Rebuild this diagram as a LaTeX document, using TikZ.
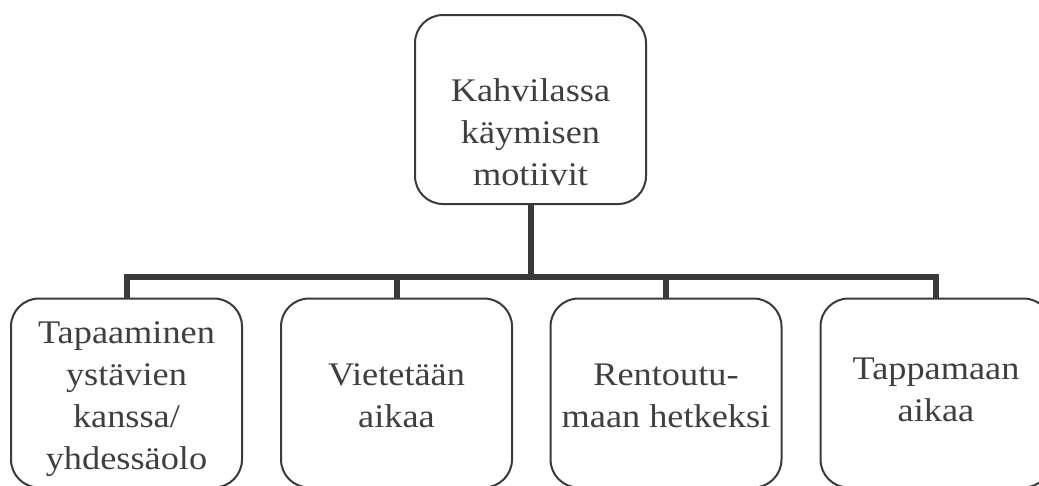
\documentclass[tikz,border=0pt]{standalone}
\usepackage{fontspec}
\setmainfont[FakeStretch=1.1]{Liberation Serif}
\definecolor{linegray}{HTML}{3A3A3C}
\definecolor{textgray}{HTML}{3F3F3F}
\begin{document}
\begin{tikzpicture}[x=1pt,y=-1pt,
  box/.style={draw=linegray, line width=2pt, rounded corners=28pt,
    minimum width=231pt, minimum height=189pt, inner sep=0pt},
  txt/.style={align=center, text=textgray, inner sep=0pt, anchor=base,
    font=\fontsize{33}{42}\selectfont},
  link/.style={draw=linegray, line width=6pt}]
\useasboundingbox (0,0) rectangle (1039,485);
\clip (0,0) rectangle (1039,485);

% boxes
\node[box] (top) at (530.5,109.5) {};
\node[box] (b1) at (126.5,393) {};
\node[box] (b2) at (396.5,393) {};
\node[box] (b3) at (666,393) {};
\node[box] (b4) at (936,393) {};

% baselines of the last text lines
\coordinate (ytop) at (0,185);
\coordinate (yfour) at (0,469);
\coordinate (ytwo) at (0,427);
\coordinate (yalt) at (0,421);

% box texts
\node[txt] (ttop) at (top.center |- ytop) {Kahvilassa\\käymisen\\motiivit};
\node[txt] (t1) at (b1.center |- yfour) {Tapaaminen\\ystävien\\kanssa/\\yhdessäolo};
\node[txt] (t2) at (b2.center |- ytwo) {Vietetään\\aikaa};
\node[txt] (t3) at (b3.center |- ytwo) {Rentoutu-\\maan hetkeksi};
\node[txt] (t4) at (b4.center |- yalt) {Tappamaan\\aikaa};

% connectors
\coordinate (bar) at (0,277);
\draw[link] (top.south) -- (top.south |- bar);
\draw[link] (b1.north) -- (b1.north |- bar) -- (b4.north |- bar) -- (b4.north);
\draw[link] (b2.north |- bar) -- (b2.north);
\draw[link] (b3.north |- bar) -- (b3.north);
\end{tikzpicture}
\end{document}
